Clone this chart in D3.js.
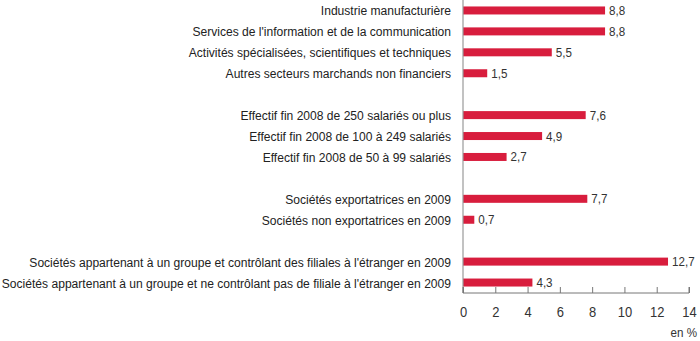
<!DOCTYPE html>
<html>
<head>
<meta charset="utf-8">
<script src="https://cdn.jsdelivr.net/npm/d3@7"></script>
<style>
  body { margin: 0; background: #fff; }
  svg { display: block; font-family: "Liberation Sans", Arial, sans-serif; }
</style>
</head>
<body>
<div id="chart"></div>
<script>
// libellés des catégories
const labels = [
  "Industrie manufacturière",
  "Services de l'information et de la communication",
  "Activités spécialisées, scientifiques et techniques",
  "Autres secteurs marchands non financiers",
  "Effectif fin 2008 de 250 salariés ou plus",
  "Effectif fin 2008 de 100 à 249 salariés",
  "Effectif fin 2008 de 50 à 99 salariés",
  "Sociétés exportatrices en 2009",
  "Sociétés non exportatrices en 2009",
  "Sociétés appartenant à un groupe et contrôlant des filiales à l'étranger en 2009",
  "Sociétés appartenant à un groupe et ne contrôlant pas de filiale à l'étranger en 2009"
];
// valeurs en %
const values = [8.8, 8.8, 5.5, 1.5, 7.6, 4.9, 2.7, 7.7, 0.7, 12.7, 4.3];
// groupe de chaque ligne (une ligne vide entre deux groupes)
const groups = [0, 0, 0, 0, 1, 1, 1, 2, 2, 3, 3];
const xTicks = [0, 2, 4, 6, 8, 10, 12, 14];

const width = 700, height = 341;
const margin = { top: 0, left: 463, right: 11, bottom: 48 };
const narrow = 0.895; // police condensée

const rows = labels.map((l, i) => ({ label: l, value: values[i], slot: i + groups[i] }));
const nSlots = d3.max(rows, d => d.slot) + 1;

const svg = d3.select('#chart').append('svg')
  .attr('width', width)
  .attr('height', height);

const x = d3.scaleLinear().domain([0, 14]).range([margin.left, width - margin.right]);
const y = d3.scalePoint().domain(d3.range(nSlots)).range([0, height - margin.bottom]).padding(0.5);
const axisY = height - margin.bottom;
const barH = 8;

// barres
svg.append('g').selectAll('rect').data(rows)
  .join('rect')
  .attr('x', x(0))
  .attr('y', d => y(d.slot) - barH / 2)
  .attr('width', d => x(d.value) - x(0))
  .attr('height', barH)
  .attr('fill', '#d81d3d');

// valeurs
svg.append('g').selectAll('text').data(rows)
  .join('text')
  .attr('transform', d => `translate(${x(d.value) + 4},${y(d.slot) + 4.5}) scale(${narrow},1)`)
  .attr('font-size', '13px')
  .attr('fill', '#333')
  .text(d => d3.format('.1f')(d.value).replace('.', ','));

// libellés
svg.append('g').selectAll('text').data(rows)
  .join('text')
  .attr('transform', d => `translate(${x(0) - 12},${y(d.slot) + 5}) scale(${narrow},1)`)
  .attr('text-anchor', 'end')
  .attr('font-size', '13.5px')
  .attr('fill', '#222')
  .text(d => d.label);

// axe vertical
svg.append('line')
  .attr('x1', x(0)).attr('x2', x(0))
  .attr('y1', 0).attr('y2', axisY)
  .attr('stroke', '#999')
  .attr('stroke-width', 1.2);

// axe horizontal
const xAxis = svg.append('g')
  .attr('transform', `translate(0,${axisY})`)
  .call(d3.axisBottom(x).tickValues(xTicks).tickSize(-6).tickPadding(0).tickFormat(d => d));
xAxis.select('.domain').attr('stroke', '#777').attr('d', `M${x(0)},-6V0H${x(14)}V-6`);
xAxis.selectAll('.tick line').attr('stroke', '#777');
xAxis.selectAll('.tick text')
  .attr('y', null).attr('dy', null)
  .attr('transform', `translate(0,24) scale(${narrow},1)`)
  .attr('font-size', '14.5px')
  .attr('font-family', '"Liberation Sans", Arial, sans-serif')
  .attr('fill', '#333');

// unité
svg.append('text')
  .attr('transform', `translate(${width - 3},${height - 4}) scale(${narrow},1)`)
  .attr('text-anchor', 'end')
  .attr('font-size', '13px')
  .attr('fill', '#333')
  .text('en %');
</script>
</body>
</html>
